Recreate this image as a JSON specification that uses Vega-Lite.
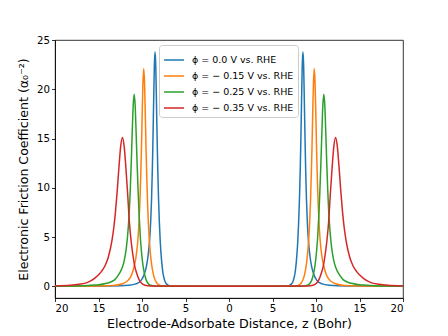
{
  "$schema": "https://vega.github.io/schema/vega-lite/v6.json",
  "width": 348,
  "height": 258,
  "autosize": {"type": "none"},
  "padding": {"left": 55, "top": 40, "right": 45, "bottom": 38},
  "background": "white",
  "config": {
    "font": "DejaVu Sans",
    "view": {"stroke": "#000", "strokeWidth": 0.8},
    "axis": {"domainColor": "#000", "domainWidth": 0.8, "tickColor": "#000", "tickWidth": 0.8, "tickSize": 3.5, "labelColor": "#000", "labelFont": "DejaVu Sans", "labelFontSize": 10.2, "titleFont": "DejaVu Sans", "titleFontSize": 12.6, "titleFontWeight": "normal", "titleColor": "#000", "grid": false, "labelPadding": 2}
  },
  "data": {"values": [
    {"p":"0.0","z":-20,"v":0},{"p":"0.0","z":-13.5,"v":0.02},{"p":"0.0","z":-11.5,"v":0.1},{"p":"0.0","z":-10.7,"v":0.24},{"p":"0.0","z":-10.1,"v":0.6},{"p":"0.0","z":-9.75,"v":1.2},{"p":"0.0","z":-9.5,"v":2.0},{"p":"0.0","z":-9.3,"v":3.1},{"p":"0.0","z":-9.12,"v":4.76},{"p":"0.0","z":-9.0,"v":6.6},{"p":"0.0","z":-8.9,"v":8.9},{"p":"0.0","z":-8.81,"v":11.9},{"p":"0.0","z":-8.74,"v":14.9},{"p":"0.0","z":-8.66,"v":18.8},{"p":"0.0","z":-8.58,"v":22.4},{"p":"0.0","z":-8.5,"v":23.8},{"p":"0.0","z":-8.42,"v":22.4},{"p":"0.0","z":-8.34,"v":18.8},{"p":"0.0","z":-8.26,"v":14.9},{"p":"0.0","z":-8.19,"v":11.9},{"p":"0.0","z":-8.1,"v":8.9},{"p":"0.0","z":-8.0,"v":6.4},{"p":"0.0","z":-7.9,"v":4.5},{"p":"0.0","z":-7.75,"v":2.6},{"p":"0.0","z":-7.6,"v":1.4},{"p":"0.0","z":-7.4,"v":0.6},{"p":"0.0","z":-7.2,"v":0.25},{"p":"0.0","z":-6.9,"v":0.07},{"p":"0.0","z":-6.5,"v":0.01},{"p":"0.0","z":0,"v":0},{"p":"0.0","z":6.5,"v":0.01},{"p":"0.0","z":6.9,"v":0.07},{"p":"0.0","z":7.2,"v":0.25},{"p":"0.0","z":7.4,"v":0.6},{"p":"0.0","z":7.6,"v":1.4},{"p":"0.0","z":7.75,"v":2.6},{"p":"0.0","z":7.9,"v":4.5},{"p":"0.0","z":8.0,"v":6.4},{"p":"0.0","z":8.1,"v":8.9},{"p":"0.0","z":8.19,"v":11.9},{"p":"0.0","z":8.26,"v":14.9},{"p":"0.0","z":8.34,"v":18.8},{"p":"0.0","z":8.42,"v":22.4},{"p":"0.0","z":8.5,"v":23.8},{"p":"0.0","z":8.58,"v":22.4},{"p":"0.0","z":8.66,"v":18.8},{"p":"0.0","z":8.74,"v":14.9},{"p":"0.0","z":8.81,"v":11.9},{"p":"0.0","z":8.9,"v":8.9},{"p":"0.0","z":9.0,"v":6.6},{"p":"0.0","z":9.12,"v":4.76},{"p":"0.0","z":9.3,"v":3.1},{"p":"0.0","z":9.5,"v":2.0},{"p":"0.0","z":9.75,"v":1.2},{"p":"0.0","z":10.1,"v":0.6},{"p":"0.0","z":10.7,"v":0.24},{"p":"0.0","z":11.5,"v":0.1},{"p":"0.0","z":13.5,"v":0.02},{"p":"0.0","z":20,"v":0},
    {"p":"-0.15","z":-20,"v":0},{"p":"-0.15","z":-14.8,"v":0.02},{"p":"-0.15","z":-13.3,"v":0.07},{"p":"-0.15","z":-12.25,"v":0.25},{"p":"-0.15","z":-11.55,"v":0.65},{"p":"-0.15","z":-11.2,"v":1.15},{"p":"-0.15","z":-10.85,"v":2.21},{"p":"-0.15","z":-10.675,"v":3.05},{"p":"-0.15","z":-10.5,"v":4.42},{"p":"-0.15","z":-10.325,"v":6.8},{"p":"-0.15","z":-10.24,"v":8.6},{"p":"-0.15","z":-10.15,"v":11.05},{"p":"-0.15","z":-10.06,"v":14.1},{"p":"-0.15","z":-9.975,"v":17.7},{"p":"-0.15","z":-9.89,"v":20.7},{"p":"-0.15","z":-9.8,"v":22.1},{"p":"-0.15","z":-9.71,"v":20.7},{"p":"-0.15","z":-9.625,"v":17.7},{"p":"-0.15","z":-9.54,"v":14.1},{"p":"-0.15","z":-9.45,"v":11.05},{"p":"-0.15","z":-9.36,"v":8.4},{"p":"-0.15","z":-9.25,"v":6.1},{"p":"-0.15","z":-9.1,"v":4.0},{"p":"-0.15","z":-8.95,"v":2.6},{"p":"-0.15","z":-8.8,"v":1.7},{"p":"-0.15","z":-8.6,"v":0.9},{"p":"-0.15","z":-8.35,"v":0.4},{"p":"-0.15","z":-8.0,"v":0.12},{"p":"-0.15","z":-7.5,"v":0.02},{"p":"-0.15","z":0,"v":0},{"p":"-0.15","z":7.5,"v":0.02},{"p":"-0.15","z":8.0,"v":0.12},{"p":"-0.15","z":8.35,"v":0.4},{"p":"-0.15","z":8.6,"v":0.9},{"p":"-0.15","z":8.8,"v":1.7},{"p":"-0.15","z":8.95,"v":2.6},{"p":"-0.15","z":9.1,"v":4.0},{"p":"-0.15","z":9.25,"v":6.1},{"p":"-0.15","z":9.36,"v":8.4},{"p":"-0.15","z":9.45,"v":11.05},{"p":"-0.15","z":9.54,"v":14.1},{"p":"-0.15","z":9.625,"v":17.7},{"p":"-0.15","z":9.71,"v":20.7},{"p":"-0.15","z":9.8,"v":22.1},{"p":"-0.15","z":9.89,"v":20.7},{"p":"-0.15","z":9.975,"v":17.7},{"p":"-0.15","z":10.06,"v":14.1},{"p":"-0.15","z":10.15,"v":11.05},{"p":"-0.15","z":10.24,"v":8.6},{"p":"-0.15","z":10.325,"v":6.8},{"p":"-0.15","z":10.5,"v":4.42},{"p":"-0.15","z":10.675,"v":3.05},{"p":"-0.15","z":10.85,"v":2.21},{"p":"-0.15","z":11.2,"v":1.15},{"p":"-0.15","z":11.55,"v":0.65},{"p":"-0.15","z":12.25,"v":0.25},{"p":"-0.15","z":13.3,"v":0.07},{"p":"-0.15","z":14.8,"v":0.02},{"p":"-0.15","z":20,"v":0},
    {"p":"-0.25","z":-20,"v":0},{"p":"-0.25","z":-16.9,"v":0.05},{"p":"-0.25","z":-15.4,"v":0.12},{"p":"-0.25","z":-14.05,"v":0.3},{"p":"-0.25","z":-13.15,"v":0.65},{"p":"-0.25","z":-12.7,"v":1.15},{"p":"-0.25","z":-12.25,"v":1.95},{"p":"-0.25","z":-12.025,"v":2.69},{"p":"-0.25","z":-11.8,"v":3.9},{"p":"-0.25","z":-11.575,"v":6.0},{"p":"-0.25","z":-11.46,"v":7.6},{"p":"-0.25","z":-11.35,"v":9.75},{"p":"-0.25","z":-11.24,"v":12.4},{"p":"-0.25","z":-11.125,"v":15.6},{"p":"-0.25","z":-11.01,"v":18.4},{"p":"-0.25","z":-10.9,"v":19.5},{"p":"-0.25","z":-10.79,"v":18.4},{"p":"-0.25","z":-10.675,"v":15.6},{"p":"-0.25","z":-10.56,"v":12.4},{"p":"-0.25","z":-10.45,"v":9.75},{"p":"-0.25","z":-10.34,"v":7.4},{"p":"-0.25","z":-10.2,"v":5.1},{"p":"-0.25","z":-10.05,"v":3.4},{"p":"-0.25","z":-9.9,"v":2.2},{"p":"-0.25","z":-9.7,"v":1.2},{"p":"-0.25","z":-9.5,"v":0.6},{"p":"-0.25","z":-9.2,"v":0.2},{"p":"-0.25","z":-8.8,"v":0.05},{"p":"-0.25","z":-8.3,"v":0.01},{"p":"-0.25","z":0,"v":0},{"p":"-0.25","z":8.3,"v":0.01},{"p":"-0.25","z":8.8,"v":0.05},{"p":"-0.25","z":9.2,"v":0.2},{"p":"-0.25","z":9.5,"v":0.6},{"p":"-0.25","z":9.7,"v":1.2},{"p":"-0.25","z":9.9,"v":2.2},{"p":"-0.25","z":10.05,"v":3.4},{"p":"-0.25","z":10.2,"v":5.1},{"p":"-0.25","z":10.34,"v":7.4},{"p":"-0.25","z":10.45,"v":9.75},{"p":"-0.25","z":10.56,"v":12.4},{"p":"-0.25","z":10.675,"v":15.6},{"p":"-0.25","z":10.79,"v":18.4},{"p":"-0.25","z":10.9,"v":19.5},{"p":"-0.25","z":11.01,"v":18.4},{"p":"-0.25","z":11.125,"v":15.6},{"p":"-0.25","z":11.24,"v":12.4},{"p":"-0.25","z":11.35,"v":9.75},{"p":"-0.25","z":11.46,"v":7.6},{"p":"-0.25","z":11.575,"v":6.0},{"p":"-0.25","z":11.8,"v":3.9},{"p":"-0.25","z":12.025,"v":2.69},{"p":"-0.25","z":12.25,"v":1.95},{"p":"-0.25","z":12.7,"v":1.15},{"p":"-0.25","z":13.15,"v":0.65},{"p":"-0.25","z":14.05,"v":0.3},{"p":"-0.25","z":15.4,"v":0.12},{"p":"-0.25","z":16.9,"v":0.05},{"p":"-0.25","z":20,"v":0},
    {"p":"-0.35","z":-20,"v":0.04},{"p":"-0.35","z":-18.25,"v":0.1},{"p":"-0.35","z":-17.25,"v":0.2},{"p":"-0.35","z":-16.25,"v":0.4},{"p":"-0.35","z":-15.45,"v":0.8},{"p":"-0.35","z":-14.65,"v":1.51},{"p":"-0.35","z":-14.25,"v":2.08},{"p":"-0.35","z":-13.85,"v":3.02},{"p":"-0.35","z":-13.45,"v":4.65},{"p":"-0.35","z":-13.25,"v":5.89},{"p":"-0.35","z":-13.05,"v":7.55},{"p":"-0.35","z":-12.85,"v":9.66},{"p":"-0.35","z":-12.65,"v":12.08},{"p":"-0.35","z":-12.45,"v":14.2},{"p":"-0.35","z":-12.25,"v":15.1},{"p":"-0.35","z":-12.05,"v":14.2},{"p":"-0.35","z":-11.85,"v":12.0},{"p":"-0.35","z":-11.65,"v":9.4},{"p":"-0.35","z":-11.45,"v":6.5},{"p":"-0.35","z":-11.25,"v":4.6},{"p":"-0.35","z":-11.05,"v":3.2},{"p":"-0.35","z":-10.85,"v":2.1},{"p":"-0.35","z":-10.6,"v":1.3},{"p":"-0.35","z":-10.35,"v":0.7},{"p":"-0.35","z":-10.05,"v":0.3},{"p":"-0.35","z":-9.65,"v":0.1},{"p":"-0.35","z":-9.05,"v":0.02},{"p":"-0.35","z":0,"v":0},{"p":"-0.35","z":9.05,"v":0.02},{"p":"-0.35","z":9.65,"v":0.1},{"p":"-0.35","z":10.05,"v":0.3},{"p":"-0.35","z":10.35,"v":0.7},{"p":"-0.35","z":10.6,"v":1.3},{"p":"-0.35","z":10.85,"v":2.1},{"p":"-0.35","z":11.05,"v":3.2},{"p":"-0.35","z":11.25,"v":4.6},{"p":"-0.35","z":11.45,"v":6.5},{"p":"-0.35","z":11.65,"v":9.4},{"p":"-0.35","z":11.85,"v":12.0},{"p":"-0.35","z":12.05,"v":14.2},{"p":"-0.35","z":12.25,"v":15.1},{"p":"-0.35","z":12.45,"v":14.2},{"p":"-0.35","z":12.65,"v":12.08},{"p":"-0.35","z":12.85,"v":9.66},{"p":"-0.35","z":13.05,"v":7.55},{"p":"-0.35","z":13.25,"v":5.89},{"p":"-0.35","z":13.45,"v":4.65},{"p":"-0.35","z":13.85,"v":3.02},{"p":"-0.35","z":14.25,"v":2.08},{"p":"-0.35","z":14.65,"v":1.51},{"p":"-0.35","z":15.45,"v":0.8},{"p":"-0.35","z":16.25,"v":0.4},{"p":"-0.35","z":17.25,"v":0.2},{"p":"-0.35","z":18.25,"v":0.1},{"p":"-0.35","z":20,"v":0.04}
  ]},
  "mark": {"type": "line", "strokeWidth": 1.5, "interpolate": "monotone", "clip": true},
  "encoding": {
    "x": {"field": "z", "type": "quantitative", "scale": {"domain": [-20, 20], "nice": false, "zero": false},
      "axis": {"values": [-20, -15, -10, -5, 0, 5, 10, 15, 20], "labelExpr": "abs(datum.value)", "title": "Electrode-Adsorbate Distance, z (Bohr)", "titlePadding": 4}},
    "y": {"field": "v", "type": "quantitative", "scale": {"domain": [-1.19, 25], "nice": false, "zero": false},
      "axis": {"values": [0, 5, 10, 15, 20, 25], "title": "Electronic Friction Coefficient (α₀⁻²)", "titlePadding": 6}},
    "color": {"field": "p", "type": "nominal",
      "scale": {"domain": ["0.0", "-0.15", "-0.25", "-0.35"], "range": ["#1f77b4", "#ff7f0e", "#2ca02c", "#d62728"]},
      "legend": {"orient": "none", "legendX": 104, "legendY": 5, "title": null, "symbolType": "stroke", "symbolSize": 400, "symbolStrokeWidth": 1.5, "labelFontSize": 9.5, "labelFont": "DejaVu Sans", "labelColor": "#000", "labelOffset": 7, "fillColor": "rgba(255,255,255,0.8)", "strokeColor": "#cccccc", "cornerRadius": 3, "padding": 4, "rowPadding": -1.5,
        "labelExpr": "'ϕ = ' + (datum.label == '0.0' ? '0.0' : '− ' + slice(datum.label, 1)) + ' V vs. RHE'"}}
  }
}
